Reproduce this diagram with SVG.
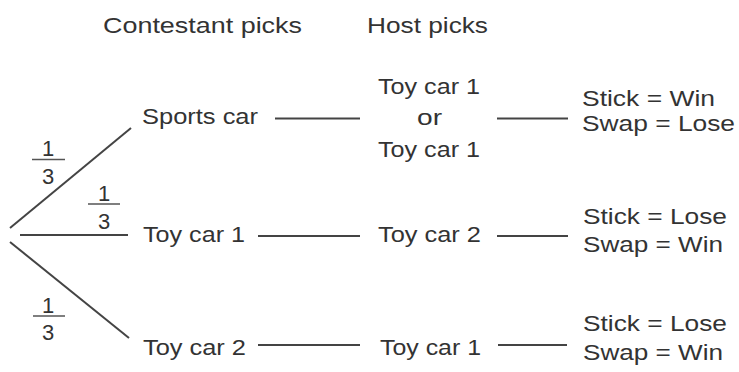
<svg xmlns="http://www.w3.org/2000/svg" width="739" height="372" viewBox="0 0 739 372">
  <style>
    text { font-family: "Liberation Sans", Arial, sans-serif; font-size: 22px; fill: #333; }
    .c { text-anchor: middle; }
    line { stroke: #444; stroke-width: 2; stroke-linecap: butt; }
    .bar { stroke: #555; stroke-width: 1.5; }
  </style>
  <rect width="739" height="372" fill="#fff"/>
  <g id="headers">
    <text x="103" y="33" textLength="199" lengthAdjust="spacingAndGlyphs">Contestant picks</text>
    <text x="367" y="33" textLength="121" lengthAdjust="spacingAndGlyphs">Host picks</text>
  </g>
  <g id="connectors">
    <line x1="10" y1="228" x2="131" y2="128"/>
    <line x1="20" y1="235" x2="128" y2="235"/>
    <line x1="10" y1="242" x2="129" y2="338"/>
    <line x1="275" y1="118.5" x2="360" y2="118.5"/>
    <line x1="497" y1="118.5" x2="568" y2="118.5"/>
    <line x1="258" y1="236" x2="360" y2="236"/>
    <line x1="497" y1="236" x2="568" y2="236"/>
    <line x1="258" y1="345" x2="360" y2="345"/>
    <line x1="498" y1="345" x2="567" y2="345"/>
  </g>
  <g id="prob-top">
    <text class="c" x="48" y="156">1</text>
    <line class="bar" x1="32" y1="159.5" x2="65" y2="159.5"/>
    <text class="c" x="48" y="184">3</text>
  </g>
  <g id="prob-mid">
    <text class="c" x="104" y="201">1</text>
    <line class="bar" x1="88" y1="204" x2="120" y2="204"/>
    <text class="c" x="104" y="229">3</text>
  </g>
  <g id="prob-bot">
    <text class="c" x="48" y="313">1</text>
    <line class="bar" x1="33" y1="316" x2="65" y2="316"/>
    <text class="c" x="48" y="340">3</text>
  </g>
  <g id="c-sports">
    <text x="142" y="123.5" textLength="116" lengthAdjust="spacingAndGlyphs">Sports car</text>
  </g>
  <g id="c-toy1">
    <text x="143" y="241.5" textLength="102" lengthAdjust="spacingAndGlyphs">Toy car 1</text>
  </g>
  <g id="c-toy2">
    <text x="143" y="355" textLength="103" lengthAdjust="spacingAndGlyphs">Toy car 2</text>
  </g>
  <g id="h-row1">
    <text x="378" y="93.5" textLength="102" lengthAdjust="spacingAndGlyphs">Toy car 1</text>
    <text x="417" y="125" textLength="25" lengthAdjust="spacingAndGlyphs">or</text>
    <text x="378" y="156.5" textLength="102" lengthAdjust="spacingAndGlyphs">Toy car 1</text>
  </g>
  <g id="h-row2">
    <text x="378" y="241.5" textLength="103" lengthAdjust="spacingAndGlyphs">Toy car 2</text>
  </g>
  <g id="h-row3">
    <text x="380" y="355" textLength="101" lengthAdjust="spacingAndGlyphs">Toy car 1</text>
  </g>
  <g id="r-row1">
    <text x="582" y="105.5" textLength="133" lengthAdjust="spacingAndGlyphs">Stick = Win</text>
    <text x="582" y="130.5" textLength="153" lengthAdjust="spacingAndGlyphs">Swap = Lose</text>
  </g>
  <g id="r-row2">
    <text x="583" y="223.5" textLength="144" lengthAdjust="spacingAndGlyphs">Stick = Lose</text>
    <text x="583" y="251.5" textLength="140" lengthAdjust="spacingAndGlyphs">Swap = Win</text>
  </g>
  <g id="r-row3">
    <text x="583" y="331" textLength="144" lengthAdjust="spacingAndGlyphs">Stick = Lose</text>
    <text x="583" y="359.5" textLength="140" lengthAdjust="spacingAndGlyphs">Swap = Win</text>
  </g>
</svg>
